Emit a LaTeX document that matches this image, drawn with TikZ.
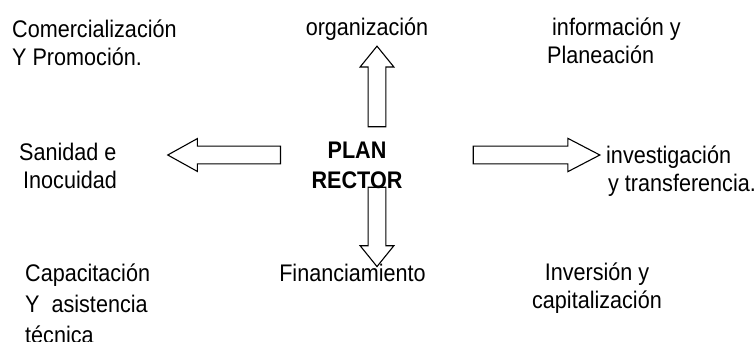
\documentclass[tikz,border=0pt]{standalone}
\usepackage{fontspec}
\setmainfont[FakeStretch=0.9]{Liberation Sans}
\usetikzlibrary{shapes.arrows}

\begin{document}
\begin{tikzpicture}[x=1pt,y=-1pt,lbl/.style ={inner sep=0pt,font=\fontsize{24}{28}\selectfont},
  flecha/.style ={draw,single arrow,single arrow head indent=0pt,inner xsep=0pt,inner ysep=8.3pt,minimum width=0pt,line width=1.1pt}]
\useasboundingbox (0,0) rectangle (756,341);

\node[flecha,rotate=90,anchor=tail,minimum height=80.6pt,single arrow head extend=8pt,single arrow tip angle=78] (fUp) at (377,127.3) {};
\node[flecha,rotate=-90,anchor=tail,minimum height=79.3pt,single arrow head extend=8pt,single arrow tip angle=78] (fDown) at (377,186.7) {};
\node[flecha,rotate=180,anchor=tail,minimum height=112.7pt,single arrow head extend=7.6pt,single arrow tip angle=58] (fLeft) at (281,155) {};
\node[flecha,anchor=tail,minimum height=126.6pt,single arrow head extend=7.8pt,single arrow tip angle=55] (fRight) at (472.7,155) {};

\node[lbl,align=center,anchor=base,font=\fontsize{24}{30}\selectfont\bfseries] (plan) at (357,188) {PLAN\\RECTOR};

\node[lbl,align=left,anchor=base west] (comer) at (12,65) {Comercialización\\Y Promoción.};
\node[lbl,anchor=base] (org) at (367,35) {organización};
\node[lbl,align=left,anchor=base west] (info) at (547,63.3) {\hspace{5pt}información y\\Planeación};
\node[lbl,align=left,anchor=base west] (sanidad) at (19,188) {Sanidad e\\\hspace{4pt}Inocuidad};
\node[lbl,align=left,anchor=base west] (invest) at (606,191.7) {investigación\\\hspace{2pt}y transferencia.};
\node[lbl,align=left,anchor=base west,font=\fontsize{24}{31}\selectfont] (capac) at (25,343) {Capacitación\\Y\ \ asistencia\\técnica};
\node[lbl,anchor=base] (finan) at (352.5,281) {Financiamiento};
\node[lbl,align=center,anchor=base] (inver) at (597,308.3) {Inversión y\\capitalización};
\end{tikzpicture}
\end{document}
